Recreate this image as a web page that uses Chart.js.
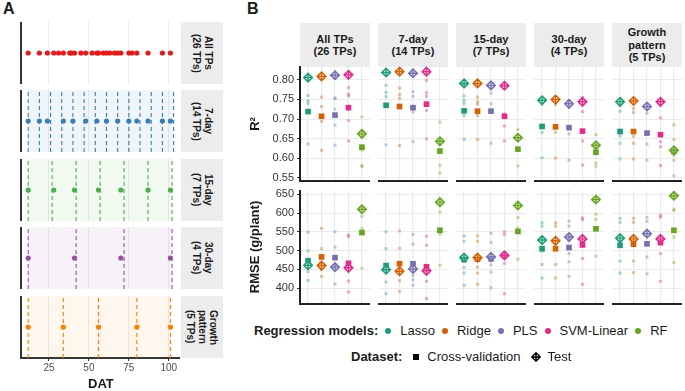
<!DOCTYPE html>
<html>
<head>
<meta charset="utf-8">
<script src="https://cdn.jsdelivr.net/npm/chart.js@4.4.0/dist/chart.umd.min.js"></script>
<style>
  body { margin: 0; background: #fff; font-family: "Liberation Sans", Arial, sans-serif; color: #1a1a1a; }
  #wrap { position: relative; width: 685px; height: 391px; overflow: hidden; }
  canvas { position: absolute; }
  .tag { position: absolute; font-weight: bold; font-size: 16px; }
  .stripA { position: absolute; background: #ececec; display: flex; align-items: center; justify-content: center;
            writing-mode: vertical-rl; font-weight: bold; font-size: 10px; line-height: 11.5px; text-align: center; }
  .stripB { position: absolute; background: #ececec; display: flex; align-items: center; justify-content: center;
            font-weight: bold; font-size: 11px; line-height: 12.5px; text-align: center; }
  .ytitle { position: absolute; font-weight: bold; font-size: 13px; white-space: nowrap;
            transform: translate(-50%, -50%) rotate(-90deg); }
  .legend { position: absolute; display: flex; align-items: center; font-size: 13px; white-space: nowrap; }
  .legend b { margin-right: 7px; }
  .dot { width: 6px; height: 6px; border-radius: 50%; margin-right: 9px; }
  .lab { margin-right: 7px; }
</style>
</head>
<body>
<div id="wrap"></div>
<script>
// ---- panel A: time points (DAT) ----
const tpAll = [12, 19, 24, 28, 31, 34, 38, 39, 41, 45, 48, 52, 55, 56, 59, 61, 63, 66, 68, 70, 75, 77, 80, 87, 96, 101];
const tp7 = [12, 19, 24, 34, 40, 48, 55, 61, 68, 75, 80, 87, 96, 101];
const grid7 = [12, 19, 26, 33, 40, 47, 54, 61, 68, 75, 82, 89, 96, 103];
const tp15 = [12, 28, 41, 56, 70, 87, 101];
const grid15 = [12, 27, 42, 57, 72, 87, 102];
const tp30 = [12, 41, 70, 101];
const grid30 = [12, 42, 72, 102];
const tpGrowth = [12, 34, 56, 80, 101];
const gridGrowth = [12, 34, 56, 80, 101];
const datTicks = [25, 50, 75, 100];
const stripsA = ['All TPs<br>(26 TPs)', '7-day<br>(14 TPs)', '15-day<br>(7 TPs)', '30-day<br>(4 TPs)', 'Growth<br>pattern<br>(5 TPs)'];

// ---- panel B: model performance ----
const models = ['Lasso', 'Ridge', 'PLS', 'SVM-Linear', 'RF'];
const stripsB = ['All TPs<br>(26 TPs)', '7-day<br>(14 TPs)', '15-day<br>(7 TPs)', '30-day<br>(4 TPs)', 'Growth<br>pattern<br>(5 TPs)'];
const r2Ticks = [0.55, 0.60, 0.65, 0.70, 0.75, 0.80];
const rmseTicks = [400, 450, 500, 550, 600, 650];

const r2Test = [
  [0.806, 0.809, 0.812, 0.813, 0.662],
  [0.819, 0.821, 0.817, 0.821, 0.643],
  [0.791, 0.791, 0.786, 0.785, 0.652],
  [0.748, 0.750, 0.739, 0.744, 0.633],
  [0.744, 0.746, 0.732, 0.744, 0.620]
];
const r2CV = [
  [0.719, 0.707, 0.710, 0.729, 0.628],
  [0.735, 0.732, 0.729, 0.738, 0.618],
  [0.721, 0.720, 0.720, 0.707, 0.623],
  [0.681, 0.680, 0.678, 0.669, 0.615],
  [0.668, 0.668, 0.664, 0.660, 0.617]
];
const r2Folds = [
  [[0.760, 0.747, 0.740, 0.636], [0.756, 0.732, 0.694, 0.620], [0.754, 0.752, 0.725, 0.684, 0.633], [0.780, 0.764, 0.759, 0.696, 0.644], [0.705, 0.620, 0.581, 0.578]],
  [[0.786, 0.768, 0.757, 0.634], [0.779, 0.763, 0.753, 0.632], [0.770, 0.758, 0.718, 0.642], [0.799, 0.767, 0.758, 0.722, 0.649], [0.692, 0.581, 0.562]],
  [[0.759, 0.748, 0.740, 0.709, 0.648], [0.756, 0.744, 0.738, 0.709, 0.648], [0.766, 0.739, 0.638], [0.713, 0.682, 0.644], [0.673, 0.580]],
  [[0.738, 0.666, 0.601], [0.737, 0.666, 0.600], [0.729, 0.662, 0.595], [0.755, 0.719, 0.644, 0.582], [0.660, 0.587, 0.579]],
  [[0.734, 0.720, 0.657, 0.638, 0.598], [0.727, 0.717, 0.656, 0.638, 0.598], [0.715, 0.636, 0.595], [0.703, 0.642, 0.629, 0.581], [0.685, 0.648, 0.607, 0.594, 0.555]]
];

const rmseTest = [
  [461, 460, 456, 454, 610],
  [449, 445, 451, 446, 629],
  [481, 481, 483, 487, 620],
  [528, 526, 536, 531, 636],
  [533, 531, 545, 531, 646]
];
const rmseCV = [
  [473, 483, 481, 466, 548],
  [460, 465, 465, 457, 554],
  [476, 477, 478, 488, 551],
  [505, 505, 508, 515, 558],
  [514, 517, 518, 521, 554]
];
const rmseFolds = [
  [[549, 499, 444, 420], [559, 505, 449, 431], [550, 509, 411], [542, 537, 419, 390], [591, 559, 453]],
  [[550, 505, 416, 385], [552, 506, 420, 391], [543, 517, 433, 422, 408], [538, 514, 418, 372], [603, 544, 461]],
  [[539, 525, 455, 440, 407], [539, 525, 456, 440, 410], [546, 522, 462, 443, 401], [550, 542, 466, 385], [588, 560, 477]],
  [[574, 565, 498, 463, 427], [574, 565, 463, 427], [578, 565, 492, 470, 431], [587, 582, 479, 410], [597, 583, 485]],
  [[586, 575, 472, 440], [586, 575, 472, 441], [588, 578, 483, 438], [594, 589, 492, 418], [610, 607, 536, 468]]
];

// colours
const colorsA = ['#e41a1c', '#377eb8', '#4daf4a', '#984ea3', '#ff7f00'];
const bandsA = [null, 'rgba(55,126,184,0.08)', 'rgba(77,175,74,0.08)', 'rgba(152,78,163,0.08)', 'rgba(255,127,0,0.07)'];
const modelColors = ['#1b9e77', '#d95f02', '#7570b3', '#e7298a', '#66a61e'];
const modelFaded = ['rgba(27,158,119,0.4)', 'rgba(217,95,2,0.4)', 'rgba(117,112,179,0.4)', 'rgba(231,41,138,0.4)', 'rgba(102,166,30,0.4)'];

const FONT = '"Liberation Sans", Arial, sans-serif';
Chart.defaults.font.family = FONT;
const wrap = document.getElementById('wrap');

function addDiv(cls, html, css) {
  const d = document.createElement('div');
  d.className = cls;
  d.innerHTML = html;
  Object.assign(d.style, css);
  wrap.appendChild(d);
  return d;
}
function addCanvas(left, top, w, h) {
  const c = document.createElement('canvas');
  c.width = w; c.height = h;
  c.style.left = left + 'px'; c.style.top = top + 'px';
  wrap.appendChild(c);
  return c;
}
// keep tick labels from shrinking the plot area
function noPad(s) { s.paddingTop = 0; s.paddingBottom = 0; s.paddingLeft = 0; s.paddingRight = 0; }

addDiv('tag', 'A', {left: '3px', top: '0px'});
addDiv('tag', 'B', {left: '247px', top: '0px'});

// ===== Panel A =====
const aTops = [22, 90, 159, 227, 296];
const aH = 62;
const aSets = [[tpAll, null], [tp7, grid7], [tp15, grid15], [tp30, grid30], [tpGrowth, gridGrowth]];

aSets.forEach(([tps, lines], i) => {
  const last = i === aSets.length - 1;
  const datasets = [{
    type: 'scatter',
    data: tps.map(d => ({x: d, y: 0.5})),
    pointRadius: 2.6, pointBackgroundColor: colorsA[i], pointBorderWidth: 0, clip: false
  }];
  if (lines) {
    lines.forEach(d => datasets.push({
      type: 'line', data: [{x: d, y: 0}, {x: d, y: 1}],
      borderColor: colorsA[i], borderWidth: 1.1, borderDash: [4, 3], pointRadius: 0
    }));
    datasets.push({
      type: 'line', data: [{x: lines[0], y: 1}, {x: lines[lines.length - 1], y: 1}],
      borderWidth: 0, pointRadius: 0, fill: 'origin', backgroundColor: bandsA[i]
    });
  }
  const cv = addCanvas(19, aTops[i], 161, aH + (last ? 20 : 0));
  new Chart(cv, {
    type: 'scatter',
    data: {datasets},
    options: {
      responsive: false, animation: false, events: [],
      layout: {padding: 0, autoPadding: false},
      plugins: {legend: {display: false}, tooltip: {enabled: false}},
      scales: {
        x: {
          type: 'linear', min: 7.5, max: 107,
          afterBuildTicks: s => { s.ticks = datTicks.map(v => ({value: v})); },
          grid: {color: '#ebebeb', lineWidth: 1, drawTicks: last, tickLength: 3, tickColor: '#333'},
          border: {display: last, color: '#333', width: 2},
          ticks: {display: last, autoSkip: false, maxRotation: 0, padding: 1, color: '#4d4d4d', font: {size: 10}},
          afterFit: s => { s.height = last ? 20 : 0; noPad(s); }
        },
        y: {
          min: 0, max: 1,
          ticks: {display: false},
          grid: {display: false, drawTicks: false},
          border: {display: true, color: '#333', width: 2},
          afterFit: s => { s.width = 2; noPad(s); }
        }
      }
    }
  });
  addDiv('stripA', stripsA[i], {left: '181px', top: aTops[i] + 'px', width: '42px', height: aH + 'px'});
});
addDiv('abs', '<b>DAT</b>', {position: 'absolute', left: '88px', top: '376px', fontSize: '13px'});

// ===== Panel B =====
const bLefts = [300, 378, 456, 534, 612];
const bW = 70;
const metrics = [
  {test: r2Test, cv: r2CV, folds: r2Folds, ticks: r2Ticks, min: 0.5415, max: 0.833, top: 67, h: 114, fmt: v => v.toFixed(2)},
  {test: rmseTest, cv: rmseCV, folds: rmseFolds, ticks: rmseTicks, min: 357.6, max: 658.7, top: 191, h: 113, fmt: v => v}
];
const pad = 6;

function pts(vals) { return vals.map((v, i) => ({x: i + 1, y: v})); }

bLefts.forEach((left, p) => {
  addDiv('stripB', stripsB[p], {left: left + 'px', top: '23px', width: bW + 'px', height: '44px'});
  metrics.forEach(m => {
    const showY = p === 0;
    const yW = showY ? 40 : 0;
    const folds = m.folds[p];
    const cv = addCanvas(left - yW, m.top - pad, bW + yW, m.h + 3 + pad * 2);
    new Chart(cv, {
      type: 'scatter',
      data: {datasets: [
        {data: pts(m.test[p]), pointStyle: 'cross', pointRadius: 4.2, borderColor: modelColors, pointBorderWidth: 1.4, clip: false},
        {data: pts(m.test[p]), pointStyle: 'rectRot', pointRadius: 4.2, borderColor: modelColors,
         backgroundColor: 'rgba(255,255,255,0.5)', pointBorderWidth: 1.6, clip: false},
        {data: pts(m.cv[p]), pointStyle: 'rect', pointRadius: 4, backgroundColor: modelColors, pointBorderWidth: 0, clip: false},
        {data: folds.flatMap((arr, i) => arr.map(v => ({x: i + 1, y: v}))), pointStyle: 'rect', pointRadius: 2.1,
         backgroundColor: folds.flatMap((arr, i) => arr.map(() => modelFaded[i])), pointBorderWidth: 0, clip: false}
      ]},
      options: {
        responsive: false, animation: false, events: [],
        layout: {padding: {top: pad, bottom: pad}, autoPadding: false},
        plugins: {legend: {display: false}, tooltip: {enabled: false}},
        scales: {
          x: {
            type: 'linear', min: 0.4, max: 5.6,
            afterBuildTicks: s => { s.ticks = models.map((_, i) => ({value: i + 1})); },
            ticks: {display: false},
            grid: {color: '#ebebeb', lineWidth: 1.2, drawTicks: false},
            border: {display: true, color: '#222', width: 2},
            afterFit: s => { s.height = 3; noPad(s); }
          },
          y: {
            min: m.min, max: m.max,
            afterBuildTicks: s => { s.ticks = m.ticks.map(v => ({value: v})); },
            ticks: {display: showY, autoSkip: false, color: '#333', padding: 3, font: {size: 11}, callback: v => m.fmt(v)},
            grid: {color: '#ebebeb', lineWidth: 1, drawTicks: showY, tickLength: 3, tickColor: '#333'},
            border: {display: showY, color: '#222', width: 2},
            afterFit: s => { s.width = yW; noPad(s); }
          }
        }
      }
    });
  });
});

addDiv('ytitle', 'R²', {left: '254px', top: '124px'});
addDiv('ytitle', 'RMSE (g/plant)', {left: '254px', top: '247px'});

// ===== Legend =====
let h1 = '<b>Regression models:</b>';
models.forEach((name, i) => {
  h1 += '<span class="dot" style="background:' + modelColors[i] + '"></span><span class="lab">' + name + '</span>';
});
addDiv('legend', h1, {left: '254px', top: '323px'});

const testIcon = '<svg width="10" height="10" viewBox="0 0 10 10" style="margin-right:7px">' +
  '<path d="M5 0.8 L9.2 5 L5 9.2 L0.8 5 Z M5 0.8 L5 9.2 M0.8 5 L9.2 5" fill="none" stroke="#000" stroke-width="1.4"/></svg>';
addDiv('legend', '<b style="margin-right:11px">Dataset:</b>' +
  '<span style="width:6px;height:6px;background:#000;margin-right:8px"></span><span class="lab" style="margin-right:10px">Cross-validation</span>' +
  testIcon + '<span>Test</span>', {left: '351px', top: '349px'});
</script>
</body>
</html>
